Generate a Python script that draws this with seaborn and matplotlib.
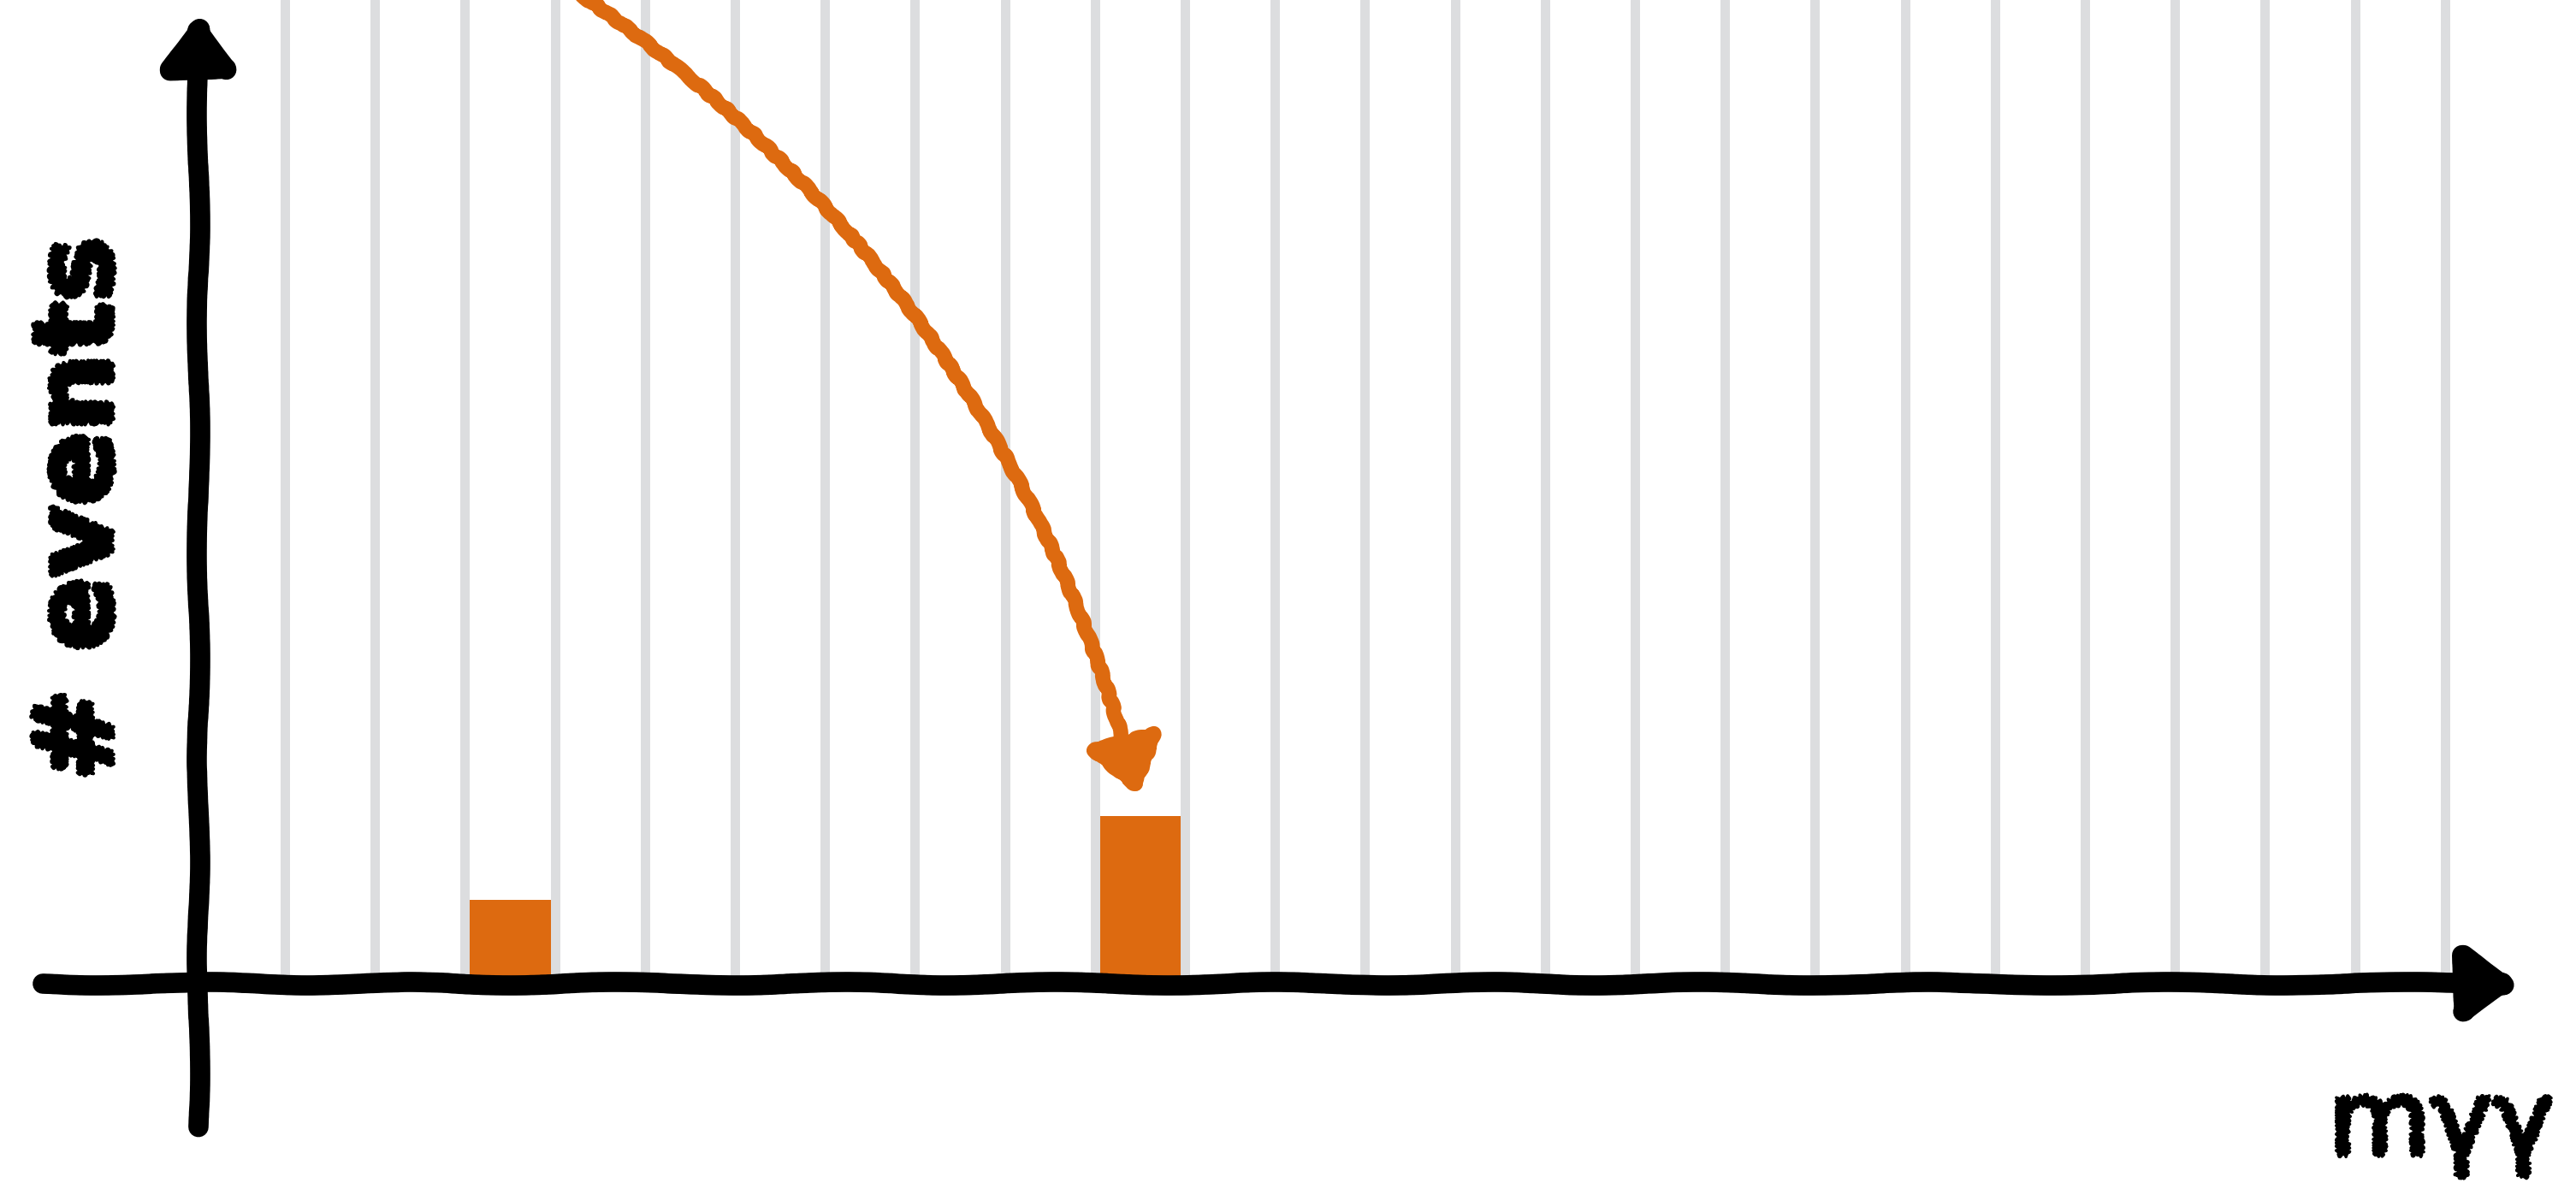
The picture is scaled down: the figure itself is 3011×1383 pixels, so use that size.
import matplotlib
matplotlib.use('Agg')
import matplotlib.pyplot as plt
import matplotlib.patheffects as pe
import numpy as np
import seaborn as sns

#%% data (x in bin units of m_gammagamma, y in events)
bin_edges = np.arange(0, 25)
events = [2.5, 9.4, 9.6]          # one event in bin 2, two in bin 9

x_axis_from, x_axis_to = (-2.69, 0.0), (24.85, 0.0)
y_axis_from, y_axis_to = (-0.96, -1.71), (-0.96, 11.6)
pointer_from, pointer_to = (3.29, 11.8), (9.48, 2.24)

orange = '#DD6A10'
grid_grey = '#DCDDDF'

sns.set_theme(style='white')


class Rough(pe.AbstractPathEffect):
    """hand drawn look for text: sketch the glyph outlines"""
    def __init__(self, scale=2.5, length=6, randomness=4, lw=3):
        super().__init__()
        self.sketch = (scale, length, randomness)
        self.lw = lw

    def draw_path(self, renderer, gc, tpath, affine, rgbFace=None):
        gc0 = renderer.new_gc()
        gc0.copy_properties(gc)
        gc0.set_sketch_params(*self.sketch)
        gc0.set_linewidth(self.lw)
        gc0.set_foreground(rgbFace)
        renderer.draw_path(gc0, tpath, affine, rgbFace)
        gc0.restore()


def sketchy_arrow(ax, start, end, color, lw, rad=0.0, sketch=(2, 350, 4),
                  head='head_length=3.8,head_width=2.6'):
    a = ax.annotate('', xy=end, xytext=start, xycoords='data', annotation_clip=False,
                    arrowprops=dict(arrowstyle='-|>,' + head,
                                    connectionstyle='arc3,rad=%s' % rad,
                                    color=color, lw=lw, mutation_scale=10,
                                    shrinkA=0, shrinkB=0, capstyle='round',
                                    joinstyle='round', clip_on=False))
    a.arrow_patch.set_sketch_params(*sketch)
    return a


#%% plot
fig = plt.figure(figsize=(30.11, 13.83), dpi=100)
ax = fig.add_axes([0, 233 / 1383, 1, 1150 / 1383])
sns.histplot(x=events, bins=bin_edges, color=orange, alpha=1, linewidth=0, ax=ax)
ax.set(xlim=(-3.165, 25.456), ylim=(0, 11.735))

ax.set_xticks(bin_edges)
ax.xaxis.grid(True, color=grid_grey, lw=7.9)
ax.yaxis.grid(False)
ax.set_axisbelow(False)
ax.tick_params(length=0, labelbottom=False, labelleft=False)
sns.despine(ax=ax, left=True, bottom=True)

sketchy_arrow(ax, x_axis_from, x_axis_to, 'black', 17, head='head_length=3.4,head_width=2.4')
sketchy_arrow(ax, y_axis_from, y_axis_to, 'black', 17, head='head_length=3.4,head_width=2.4')
sketchy_arrow(ax, pointer_from, pointer_to, orange, 12.5, rad=-0.185, sketch=(1.2, 40, 6),
              head='head_length=3.6,head_width=2.6')

ax.set_ylabel('# events', fontsize=92, fontweight='bold', color='black',
              rotation=90, ha='center', va='center')
ax.yaxis.set_label_coords(95 / 3011, (1150 - 595) / 1150)
ax.yaxis.label.set_path_effects([Rough()])
ax.set_xlabel('mγγ', fontsize=88, color='black', ha='left', va='baseline')
ax.xaxis.set_label_coords(2722 / 3011, (1150 - 1350) / 1150)
ax.xaxis.label.set_path_effects([Rough(lw=2.5)])

fig.savefig('out.png', dpi=100)
